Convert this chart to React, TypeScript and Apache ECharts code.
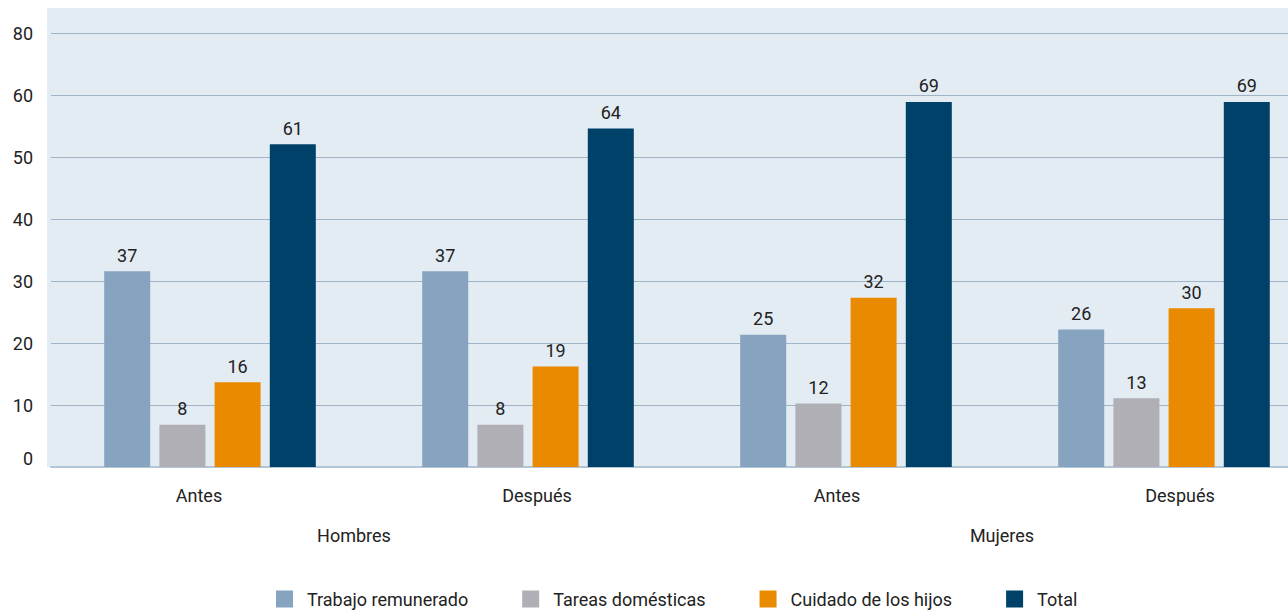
import React, { useEffect, useRef } from "react";
import * as echarts from "echarts";

const subCategories = ["Antes", "Después", "Antes", "Después"];
const groupCategories = ["Hombres", "Mujeres"];
const seriesNames = ["Trabajo remunerado", "Tareas domésticas", "Cuidado de los hijos", "Total"];
const trabajoRemunerado = [37, 37, 25, 26];
const tareasDomesticas = [8, 8, 12, 13];
const cuidadoHijos = [16, 19, 32, 30];
const total = [61, 64, 69, 69];
const yTickLabels = ["0", "10", "20", "30", "40", "50", "60", "80"];

const colors = ["#86a4c0", "#b0afb5", "#ea8a00", "#00416a"];
const subShift = [-11, 9, -9, 16];
const groupShift = [-15, -3];
const FONT = "Roboto, 'Noto Sans', sans-serif";
const TEXT = "#222222";
const FS = 18;

function padFor(shift: number) {
  return shift < 0 ? [0, -2 * shift, 0, 0] : [0, 0, 0, 2 * shift];
}

export default function App() {
  const ref = useRef<HTMLDivElement>(null);
  useEffect(() => {
    if (!ref.current) return;
    const chart = echarts.init(ref.current, undefined, { renderer: "svg" });
    const seriesData = [trabajoRemunerado, tareasDomesticas, cuidadoHijos, total];
    const subRich: any = {};
    subShift.forEach((s, i) => {
      subRich["s" + i] = { padding: padFor(s), fontSize: FS, color: TEXT, fontFamily: FONT };
    });
    const groupRich: any = {};
    groupShift.forEach((s, i) => {
      groupRich["g" + i] = { padding: padFor(s), fontSize: FS, color: TEXT, fontFamily: FONT };
    });
    chart.setOption({
      animation: false,
      textStyle: { fontFamily: FONT },
      graphic: [
        {
          type: "rect",
          z: -10,
          silent: true,
          shape: { x: 47, y: 8, width: 1290, height: 459 },
          style: { fill: "#e3ebf3" },
        },
      ],
      grid: { left: 51, top: 33, width: 1272, height: 434 },
      legend: {
        left: 276,
        top: 590,
        padding: 0,
        icon: "rect",
        itemWidth: 17,
        itemHeight: 17,
        itemGap: 54,
        textStyle: { fontSize: FS, color: TEXT, fontFamily: FONT, padding: [0, 0, 0, 9] },
        data: seriesNames,
      },
      xAxis: [
        {
          type: "category",
          data: subCategories,
          axisLine: { show: true, lineStyle: { color: "#b4c5d6", width: 2 } },
          axisTick: { show: false },
          axisLabel: {
            margin: 19,
            fontSize: FS,
            color: TEXT,
            fontFamily: FONT,
            formatter: (v: string, i: number) => `{s${i}|${v}}`,
            rich: subRich,
          },
        },
        {
          type: "category",
          data: groupCategories,
          position: "bottom",
          offset: 40,
          axisLine: { show: false },
          axisTick: { show: false },
          splitLine: { show: false },
          axisLabel: {
            margin: 19,
            fontSize: FS,
            color: TEXT,
            fontFamily: FONT,
            formatter: (v: string, i: number) => `{g${i}|${v}}`,
            rich: groupRich,
          },
        },
      ],
      yAxis: {
        type: "value",
        min: 0,
        max: 82.04,
        interval: 11.72,
        axisLine: { show: false },
        axisTick: { show: false },
        splitLine: { lineStyle: { color: "#9fb4c9", width: 1 } },
        axisLabel: {
          margin: 18,
          fontSize: FS,
          color: TEXT,
          fontFamily: FONT,
          formatter: (v: number, i: number) => (i === 0 ? "{z|0}" : yTickLabels[i] ?? ""),
          rich: { z: { padding: [0, 0, 18, 0], fontSize: FS, color: TEXT, fontFamily: FONT } },
        },
      },
      series: seriesNames.map((name, k) => ({
        name,
        type: "bar",
        xAxisIndex: 0,
        data: seriesData[k],
        barWidth: 46,
        barGap: "20%",
        itemStyle: { color: colors[k] },
        label: {
          show: true,
          position: "top",
          distance: 7,
          fontSize: FS,
          color: TEXT,
          fontFamily: FONT,
        },
      })),
    });
    return () => chart.dispose();
  }, []);
  return (
    <div
      style={{
        position: "absolute",
        left: 0,
        top: 0,
        width: 1288,
        height: 611,
        overflow: "hidden",
      }}
    >
      <div ref={ref} style={{ width: 1340, height: 611 }} />
    </div>
  );
}
